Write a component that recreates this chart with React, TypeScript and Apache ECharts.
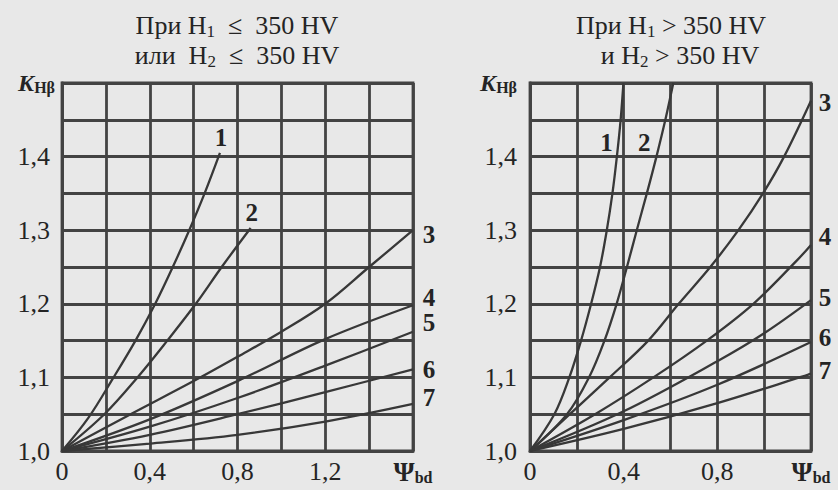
import React, { useEffect, useRef } from 'react';
import * as echarts from 'echarts';

// Titles (rich text: {t|…} normal, {s|…} subscript)
const leftTitle = ['{t|При H}{s|1}{t|  ≤  350 HV}', '{t|или  H}{s|2}{t|  ≤  350 HV}'];
const rightTitle = ['{t|При H}{s|1}{t| > 350 HV}', '{t|и H}{s|2}{t| > 350 HV}'];

// Curve numbers
const curveNames = ['1', '2', '3', '4', '5', '6', '7'];

// Axis ranges / ticks
const yMin = 1.0;
const yMax = 1.5;
const yStep = 0.05;
const leftXMax = 1.6;
const rightXMax = 1.2;
const xStep = 0.2;

// Left panel (H1 ≤ 350 HV or H2 ≤ 350 HV): [ψbd, KHβ]
const left1 = [[0, 1], [0.12, 1.045], [0.235, 1.1], [0.335, 1.15], [0.425, 1.2], [0.505, 1.25], [0.58, 1.3], [0.65, 1.35], [0.72, 1.405]];
const left2 = [[0, 1], [0.193, 1.05], [0.344, 1.1], [0.48, 1.15], [0.61, 1.2], [0.728, 1.25], [0.86, 1.303]];
const left3 = [[0, 1], [0.3, 1.048], [0.6, 1.095], [0.8, 1.128], [1.0, 1.162], [1.2, 1.2], [1.4, 1.25], [1.6, 1.3]];
const left4 = [[0, 1], [0.4, 1.043], [0.8, 1.095], [1.2, 1.152], [1.6, 1.198]];
const left5 = [[0, 1], [0.4, 1.033], [0.8, 1.072], [1.2, 1.116], [1.6, 1.162]];
const left6 = [[0, 1], [0.4, 1.022], [0.8, 1.05], [1.2, 1.08], [1.6, 1.111]];
const left7 = [[0, 1], [0.4, 1.01], [0.8, 1.022], [1.2, 1.04], [1.6, 1.064]];

// Right panel (H1 > 350 HV and H2 > 350 HV): [ψbd, KHβ]
const right1 = [[0, 1], [0.104, 1.05], [0.168, 1.1], [0.218, 1.15], [0.261, 1.2], [0.299, 1.25], [0.328, 1.3], [0.352, 1.35], [0.371, 1.4], [0.387, 1.45], [0.399, 1.5]];
const right2 = [[0, 1], [0.158, 1.05], [0.252, 1.1], [0.318, 1.15], [0.37, 1.2], [0.414, 1.25], [0.456, 1.3], [0.499, 1.35], [0.54, 1.4], [0.578, 1.45], [0.612, 1.5]];
const right3 = [[0, 1], [0.17, 1.05], [0.34, 1.1], [0.505, 1.15], [0.635, 1.2], [0.77, 1.25], [0.89, 1.3], [0.995, 1.35], [1.085, 1.4], [1.2, 1.476]];
const right4 = [[0, 1], [0.278, 1.05], [0.527, 1.1], [0.755, 1.15], [0.954, 1.2], [1.14, 1.259], [1.2, 1.28]];
const right5 = [[0, 1], [0.4, 1.054], [0.8, 1.122], [1.0, 1.16], [1.2, 1.205]];
const right6 = [[0, 1], [0.4, 1.042], [0.8, 1.09], [1.2, 1.148]];
const right7 = [[0, 1], [0.4, 1.03], [0.8, 1.065], [1.2, 1.105]];

const leftCurves = [left1, left2, left3, left4, left5, left6, left7];
const rightCurves = [right1, right2, right3, right4, right5, right6, right7];

// Label placement (styling): index of the point carrying the number (-1 = last) and pixel offset
const leftLabelAt = [-1, -1, -1, -1, -1, -1, -1];
const leftLabelOffset = [[1, -15], [1, -15], [16, 4], [16, -8], [16, -9], [16, 0], [16, -6]];
const rightLabelAt = [9, 9, -1, -1, -1, -1, -1];
const rightLabelOffset = [[-14, 23], [-21, 23], [14, 2], [14, -8], [14, -3], [14, -5], [14, -3]];

const SERIF = 'Liberation Serif';
const INK = '#242424';
const GRIDC = '#434343';
const LINEC = '#383838';
const BG = '#e8e8e8';

function buildSeries(curves: number[][][], labelAt: number[], offsets: number[][], axisIndex: number) {
  return curves.map((pts, i) => {
    const idx = labelAt[i] < 0 ? pts.length - 1 : labelAt[i];
    return {
      type: 'line',
      name: curveNames[i] + (axisIndex ? 'r' : 'l'),
      xAxisIndex: axisIndex,
      yAxisIndex: axisIndex,
      smooth: 0.35,
      symbol: 'circle',
      symbolSize: 0,
      showSymbol: true,
      silent: true,
      lineStyle: { color: LINEC, width: 2.3 },
      itemStyle: { color: LINEC },
      data: pts.map((p, j) =>
        j === idx
          ? {
              value: p,
              label: {
                show: true,
                formatter: curveNames[i],
                position: offsets[i],
                align: 'center',
                verticalAlign: 'middle',
                fontFamily: SERIF,
                fontSize: 25,
                fontWeight: 'bold',
                color: INK,
              },
            }
          : { value: p }
      ),
    };
  });
}

function xFormatter(max: number) {
  return (v: number) => {
    const n = Math.round(v * 10);
    if (n === Math.round(max * 10)) return '{psi|Ψ}{bd|bd}';
    if (n % 4 === 0) return (n / 10).toFixed(n === 0 ? 0 : 1).replace('.', ',');
    return '';
  };
}

function yFormatter(pad: boolean) {
  return (v: number) => {
    const n = Math.round(v * 100);
    if (n === 150) return '{k|K}{h|Hβ}';
    if (n % 10 === 0) return pad ? '{n|' + (n / 100).toFixed(1).replace('.', ',') + '}' : (n / 100).toFixed(1).replace('.', ',');
    return '';
  };
}

const richX = {
  psi: { fontFamily: SERIF, fontSize: 27, color: INK, fontWeight: 'bold' },
  bd: { fontFamily: SERIF, fontSize: 16, color: INK, fontWeight: 'bold', verticalAlign: 'bottom' },
};
const richY = {
  k: { fontFamily: SERIF, fontSize: 24, color: INK, fontWeight: 'bold', fontStyle: 'italic' },
  h: { fontFamily: SERIF, fontSize: 16, color: INK, fontWeight: 'bold', verticalAlign: 'bottom' },
  n: { fontFamily: SERIF, fontSize: 26, color: INK, padding: [0, 5, 0, 0] },
};
const richTitle = {
  t: { fontFamily: SERIF, fontSize: 26, lineHeight: 26, color: INK, verticalAlign: 'top' },
  s: { fontFamily: SERIF, fontSize: 17, lineHeight: 17, color: INK, padding: [12, 0, 0, 0] },
};

function xAxis(gridIndex: number, max: number) {
  return {
    type: 'value',
    gridIndex,
    min: 0,
    max,
    interval: xStep,
    axisLine: { show: true, lineStyle: { color: GRIDC, width: 2.8 } },
    axisTick: { show: false },
    splitLine: { show: true, lineStyle: { color: GRIDC, width: 2.8 } },
    axisLabel: {
      show: true,
      margin: 7,
      showMaxLabel: true,
      showMinLabel: true,
      fontFamily: SERIF,
      fontSize: 26,
      color: INK,
      formatter: xFormatter(max),
      rich: richX,
    },
  };
}

function yAxis(gridIndex: number, margin: number, pad: boolean) {
  return {
    type: 'value',
    gridIndex,
    min: yMin,
    max: yMax,
    interval: yStep,
    axisLine: { show: true, lineStyle: { color: GRIDC, width: 2.8 } },
    axisTick: { show: false },
    splitLine: { show: true, lineStyle: { color: GRIDC, width: 2.8 } },
    axisLabel: {
      show: true,
      margin,
      showMaxLabel: true,
      showMinLabel: true,
      fontFamily: SERIF,
      fontSize: 26,
      color: INK,
      formatter: yFormatter(pad),
      rich: richY,
    },
  };
}

export default function App() {
  const ref = useRef<HTMLDivElement>(null);
  useEffect(() => {
    document.body.style.margin = '0';
    document.body.style.background = BG;
    if (!ref.current) return;
    const chart = echarts.init(ref.current, undefined, { renderer: 'svg' });
    const titleStyle = (text: string) => ({
      text,
      rich: richTitle,
      fontFamily: SERIF,
      fontSize: 26,
      fill: INK,
      align: 'center',
      verticalAlign: 'middle',
    });
    chart.setOption({
      animation: false,
      backgroundColor: BG,
      grid: [
        { left: 62, top: 83, width: 351, height: 368, show: true, borderColor: GRIDC, borderWidth: 2.8, backgroundColor: 'transparent' },
        { left: 530, top: 83, width: 281, height: 368, show: true, borderColor: GRIDC, borderWidth: 2.8, backgroundColor: 'transparent' },
      ],
      xAxis: [xAxis(0, leftXMax), xAxis(1, rightXMax)],
      yAxis: [yAxis(0, 7, true), yAxis(1, 13, false)],
      graphic: [
        { type: 'text', x: 237, y: 25, style: titleStyle(leftTitle[0]) },
        { type: 'text', x: 237, y: 55, style: titleStyle(leftTitle[1]) },
        { type: 'text', x: 671, y: 25, style: titleStyle(rightTitle[0]) },
        { type: 'text', x: 680, y: 55, style: titleStyle(rightTitle[1]) },
      ],
      series: [
        ...buildSeries(leftCurves, leftLabelAt, leftLabelOffset, 0),
        ...buildSeries(rightCurves, rightLabelAt, rightLabelOffset, 1),
      ],
    });
    return () => chart.dispose();
  }, []);
  return (
    <div
      ref={ref}
      style={{ position: 'absolute', left: 0, top: 0, width: 838, height: 490, background: BG }}
    />
  );
}
